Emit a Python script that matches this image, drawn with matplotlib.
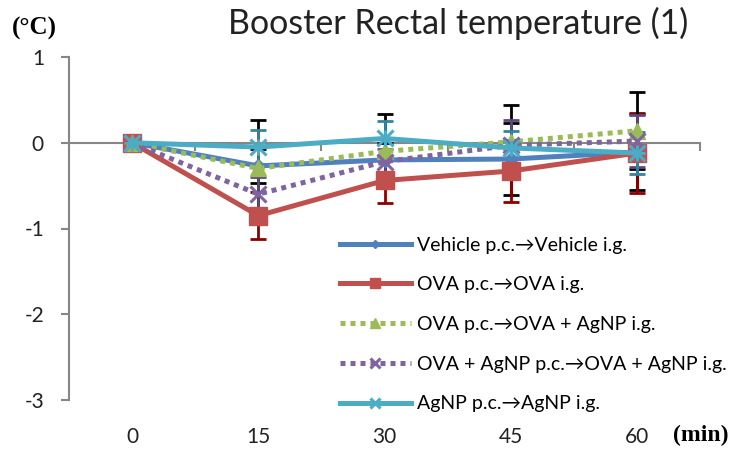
import matplotlib
matplotlib.use("Agg")
import matplotlib.pyplot as plt
import numpy as np

# ---- data ----
categories = ["0", "15", "30", "45", "60"]
series_names = [
    "Vehicle p.c.\u2192Vehicle i.g.",
    "OVA p.c.\u2192OVA i.g.",
    "OVA p.c.\u2192OVA + AgNP i.g.",
    "OVA + AgNP p.c.\u2192OVA + AgNP i.g.",
    "AgNP p.c.\u2192AgNP i.g.",
]
vehicle = [0, -0.27, -0.20, -0.19, -0.11]
ova = [0, -0.85, -0.44, -0.33, -0.12]
ova_agnp = [0, -0.30, -0.10, 0.01, 0.14]
ova_agnp_pc = [0, -0.60, -0.22, -0.03, 0.02]
agnp = [0, -0.05, 0.05, -0.06, -0.12]

vehicle_err = [0, 0.20, 0.20, 0.42, 0.44]
ova_err = [0, 0.27, 0.26, 0.36, 0.47]
ova_agnp_err = [0, 0.56, 0.43, 0.43, 0.45]
ova_agnp_pc_err = [0, 0.20, 0.15, 0.29, 0.30]
agnp_err = [0, 0.20, 0.20, 0.20, 0.25]

y_ticks = [-3, -2, -1, 0, 1]

# ---- style ----
plt.rcParams['font.family'] = ['Lato', 'DejaVu Sans']
fig = plt.figure(figsize=(7.44, 4.49), dpi=100)
W, H = 744, 449
ax = fig.add_axes([69 / W, (H - 400) / H, (700 - 69) / W, (400 - 57) / H])

x = np.arange(len(categories))
colors = ["#4F81BD", "#C0504D", "#9BBB59", "#8064A2", "#4BACC6"]
err_colors = ["#000000", "#8B0000", "#000000", "#5F497A", "#31859C"]
markers = ["D", "s", "^", "x", "x"]
msizes = [7, 13, 11, 11, 12]
styles = ["-", "-", (0, (1, 1)), (0, (1, 1)), "-"]
data = [vehicle, ova, ova_agnp, ova_agnp_pc, agnp]
errs = [vehicle_err, ova_err, ova_agnp_err, ova_agnp_pc_err, agnp_err]

handles = []
for i, (d, e) in enumerate(zip(data, errs)):
    ax.errorbar(x, d, yerr=e, fmt='none', ecolor=err_colors[i], elinewidth=2.0,
                capsize=5.5, capthick=2.0, zorder=2 + i * 0.1)
for i, d in enumerate(data):
    mk = markers[i]
    kw = dict(color=colors[i], lw=3.6, linestyle=styles[i], marker=mk,
              markersize=msizes[i], markerfacecolor=colors[i],
              markeredgecolor=colors[i], zorder=3 + i)
    if mk == "x":
        kw["markeredgewidth"] = 2.2
    h, = ax.plot(x, d, label=series_names[i], **kw)
    if i == 4:
        ax.plot(x, d, linestyle='none', marker='+', markersize=12,
                markeredgewidth=2.2, color=colors[i], zorder=3 + i)
    handles.append(h)

ax.set_xlim(-0.5, 4.5)
ax.set_ylim(-3, 1)
ax.set_yticks(y_ticks)
ax.set_yticklabels([str(t) for t in y_ticks])

for s in ["top", "right"]:
    ax.spines[s].set_visible(False)
ax.spines["left"].set_color("#868686")
ax.spines["left"].set_linewidth(1.5)
ax.spines["bottom"].set_position(("data", 0))
ax.spines["bottom"].set_color("#868686")
ax.spines["bottom"].set_linewidth(1.5)
ax.spines["bottom"].set_zorder(1)
ax.tick_params(axis='y', length=6, width=1.5, color="#868686", labelsize=15,
               pad=12, labelcolor="#222222")
ax.set_xticks(np.arange(-0.5, 5.0, 1.0))
ax.set_xticklabels([])
ax.tick_params(axis='x', length=6, width=1.5, color="#868686", direction='out')

for xi, lab in zip(x, categories):
    ax.text(xi, -3.43, lab, ha='center', va='center', fontsize=15,
            color="#222222", clip_on=False)

fig.text(673 / W, 1 - 435 / H, "(min)", ha='left', va='center', fontsize=17,
         fontweight='bold', family=['Liberation Serif', 'DejaVu Serif'])
fig.text(34 / W, 1 - 28 / H, "(\u00b0C)", ha='center', va='center', fontsize=18,
         fontweight='bold', family=['Liberation Serif', 'DejaVu Serif'])
fig.text(458 / W, 1 - 23 / H, "Booster Rectal temperature (1)", ha='center',
         va='center', fontsize=24.5, color="#222222")

ax.legend(handles=handles, loc='upper left', bbox_to_anchor=(322 / W, 1 - 219 / H),
          bbox_transform=fig.transFigure, frameon=False, fontsize=14,
          handlelength=3.7, labelspacing=1.17, handletextpad=0.3,
          markerscale=0.6)

fig.savefig("out.png", dpi=100)
